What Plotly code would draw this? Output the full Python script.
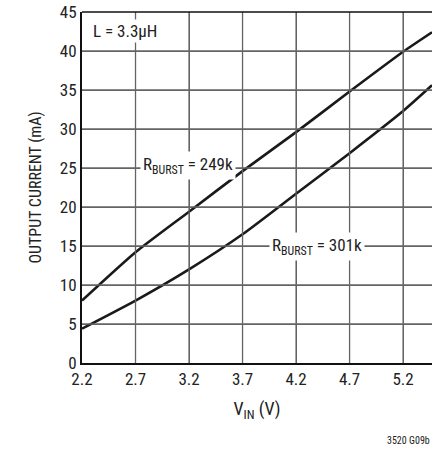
import plotly.graph_objects as go

vin = [2.2, 2.7, 3.2, 3.7, 4.2, 4.7, 5.2, 5.47]
i_249k = [8.0, 14.2, 19.4, 24.6, 29.6, 34.8, 39.9, 42.4]
i_301k = [4.4, 8.0, 12.0, 16.5, 21.7, 26.9, 32.3, 35.6]

x_ticks = [2.2, 2.7, 3.2, 3.7, 4.2, 4.7, 5.2]
y_ticks = [0, 5, 10, 15, 20, 25, 30, 35, 40, 45]
x_range = [2.2, 5.47]
y_range = [0, 45]

FONT = "Liberation Sans Narrow, Roboto Condensed, Arial Narrow, Liberation Sans, sans-serif"
GRID = "rgb(100,100,100)"

fig = go.Figure()

# grid lines at the tick values (drawn as shapes in data coordinates)
for xv in x_ticks[1:]:
    fig.add_shape(type="line", xref="x", yref="y", x0=xv, x1=xv, y0=y_range[0], y1=y_range[1],
                  line=dict(color=GRID, width=1.3), layer="above")
for yv in y_ticks[1:-1]:
    fig.add_shape(type="line", xref="x", yref="y", x0=x_range[0], x1=x_range[1], y0=yv, y1=yv,
                  line=dict(color=GRID, width=1.3), layer="above")

for ys in (i_249k, i_301k):
    fig.add_trace(go.Scatter(x=vin, y=ys, mode="lines",
                             line=dict(color="#1a1a1a", width=2.6, shape="spline", smoothing=0.6),
                             showlegend=False, hoverinfo="skip"))

fig.add_annotation(x=3.19, y=25.3, text="R<sub>BURST</sub> = 249k", showarrow=False,
                   bgcolor="white", font=dict(size=17, color="#222", family=FONT), borderpad=2)
fig.add_annotation(x=4.40, y=14.9, text="R<sub>BURST</sub> = 301k", showarrow=False,
                   bgcolor="white", font=dict(size=17, color="#222", family=FONT), borderpad=2)
fig.add_annotation(x=2.28, y=42.6, text="L = 3.3µH", showarrow=False, xanchor="left",
                   bgcolor="white", font=dict(size=17, color="#222", family=FONT))
fig.add_annotation(xref="paper", yref="paper", x=1.0, y=-0.222, text="3520 G09b", showarrow=False,
                   xanchor="right", yanchor="middle", font=dict(size=10, color="#222", family=FONT))

fig.update_layout(
    width=432, height=450,
    margin=dict(l=82, r=0, t=12, b=87),
    plot_bgcolor="white", paper_bgcolor="white",
    font=dict(family=FONT, size=17, color="#222"),
    xaxis=dict(range=x_range, tickmode="array", tickvals=x_ticks,
               ticktext=[f"{v:.1f}" for v in x_ticks],
               showgrid=True, gridcolor=GRID, gridwidth=1.2, zeroline=False,
               showline=True, linecolor="#111", linewidth=2, ticks="",
               title=dict(text="V<sub>IN</sub> (V)", standoff=14, font=dict(size=18))),
    yaxis=dict(range=y_range, tickmode="array", tickvals=y_ticks, showgrid=True,
               gridcolor=GRID, gridwidth=1.2,
               zeroline=False, showline=True, linecolor="#111", linewidth=2, ticks="",
               title=dict(text="OUTPUT CURRENT (mA)", standoff=14, font=dict(size=16))),
)
fig.add_shape(type="line", xref="paper", yref="paper", x0=0, x1=1, y0=1, y1=1,
              line=dict(color="#111", width=1.5))

fig.write_html("out.html")
